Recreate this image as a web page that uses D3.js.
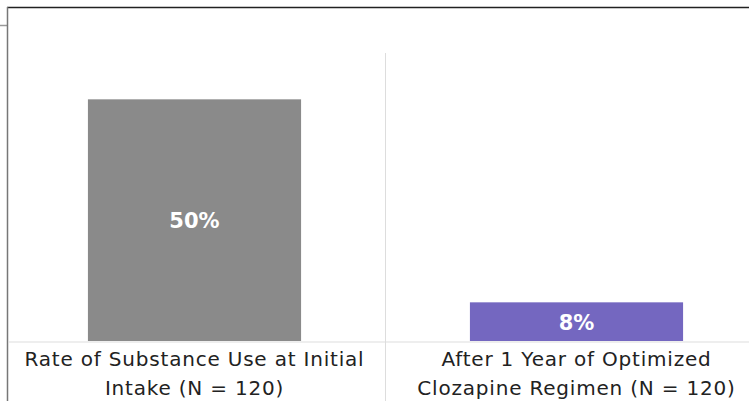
<!DOCTYPE html>
<html lang="en">
<head>
    <meta charset="UTF-8">
    <title>Substance use rate</title>
    <script src="https://d3js.org/d3.v7.min.js"></script>
    <style>
        body { margin: 0; background: #fff; }
        svg { display: block; }
        .cat-label { font-family: "DejaVu Sans", sans-serif; font-size: 20px; letter-spacing: 0.8px; fill: #222; }
        .val-label { font-family: "DejaVu Sans", sans-serif; font-size: 21px; font-weight: bold; fill: #fff; }
    </style>
</head>
<body>
    <div id="chart"></div>
    <script>
        // data
        const categories = [
            ["Rate of Substance Use at Initial", "Intake (N = 120)"],
            ["After 1 Year of Optimized", "Clozapine Regimen (N = 120)"]
        ];
        const rates = [50, 8];
        const barColors = ["#8a8a8a", "#7467c0"];

        const W = 749, H = 401;
        const svg = d3.select("#chart").append("svg")
            .attr("width", W)
            .attr("height", H);

        // chart frame
        svg.append("line").attr("x1", 0).attr("x2", 7).attr("y1", 25.5).attr("y2", 25.5)
            .attr("stroke", "#999").attr("stroke-width", 1.5);
        svg.append("line").attr("x1", 7).attr("x2", W).attr("y1", 7.5).attr("y2", 7.5)
            .attr("stroke", "#222").attr("stroke-width", 1.5);
        svg.append("line").attr("x1", 7.5).attr("x2", 7.5).attr("y1", 7).attr("y2", H)
            .attr("stroke", "#777").attr("stroke-width", 1.5);

        const idx = d3.range(rates.length);
        const x = d3.scaleBand()
            .domain(idx)
            .range([3.5, 767.5])
            .paddingInner(0.442)
            .paddingOuter(0.221);

        const y = d3.scaleLinear()
            .domain([0, 60])
            .range([341, 51]);

        // divider between categories
        svg.append("line")
            .attr("x1", 385.5).attr("x2", 385.5)
            .attr("y1", 53).attr("y2", H)
            .attr("stroke", "#ddd");

        // baseline
        svg.append("line")
            .attr("x1", 8).attr("x2", W)
            .attr("y1", y(0) + 1).attr("y2", y(0) + 1)
            .attr("stroke", "#ddd");

        svg.selectAll(".bar")
            .data(idx)
            .enter().append("rect")
            .attr("class", "bar")
            .attr("x", i => x(i))
            .attr("width", x.bandwidth())
            .attr("y", i => y(rates[i]))
            .attr("height", i => y(0) - y(rates[i]))
            .attr("fill", i => barColors[i]);

        svg.selectAll(".val-label")
            .data(idx)
            .enter().append("text")
            .attr("class", "val-label")
            .attr("text-anchor", "middle")
            .attr("dominant-baseline", "central")
            .attr("x", i => x(i) + x.bandwidth() / 2)
            .attr("y", i => (y(rates[i]) + y(0)) / 2 + 1)
            .text(i => rates[i] + "%");

        // category labels, two lines each
        const labels = svg.selectAll(".cat-label")
            .data(idx)
            .enter().append("text")
            .attr("class", "cat-label")
            .attr("text-anchor", "middle");
        labels.each(function(i) {
            const cx = x(i) + x.bandwidth() / 2;
            categories[i].forEach((line, k) => {
                d3.select(this).append("tspan")
                    .attr("x", cx)
                    .attr("y", 366 + k * 29)
                    .text(line);
            });
        });
    </script>
</body>
</html>
